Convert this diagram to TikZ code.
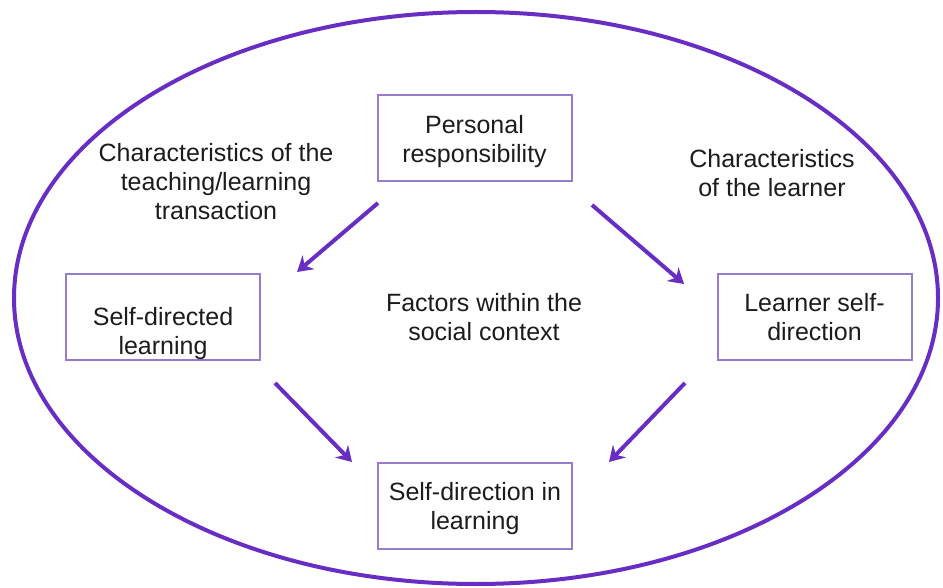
\documentclass[tikz,border=0pt]{standalone}
\usepackage{fontspec}
\setmainfont{Liberation Sans}
\usetikzlibrary{arrows.meta}
\definecolor{ringpurple}{RGB}{104,46,196}
\definecolor{boxpurple}{RGB}{152,124,204}
\definecolor{inktext}{RGB}{28,28,28}
\begin{document}
\begin{tikzpicture}[x=1pt,y=-1pt,
  every node/.style={font=\fontsize{25}{29}\selectfont, text=inktext, align=center},
  factor/.style={draw=boxpurple, line width=2pt, minimum width=194pt, minimum height=86pt,
    inner sep=0pt, text depth=0pt},
  freetext/.style={inner sep=0pt},
  flow/.style={draw=ringpurple, line width=4pt, -{Stealth[length=15pt,width=18pt,inset=5pt]}}]
  \useasboundingbox (0,0) rectangle (943,588);

  % outer context
  \draw[ringpurple, line width=4pt] (476,298) ellipse [x radius=462, y radius=286];

  % factor boxes (the left one carries its text a little low)
  \node[factor] (pr)   at (474.5,138.5) {Personal\\responsibility};
  \node[factor] (sdl)  at (163,317)     {\mbox{}\\[17pt]Self-directed\\learning};
  \node[factor] (lsd)  at (814.5,317)   {Learner self-\\direction};
  \node[factor] (sdil) at (475,506)     {Self-direction in\\learning};

  % surrounding labels
  \node[freetext] (teach)   at (216,182) {Characteristics of the\\teaching/learning\\transaction};
  \node[freetext] (learner) at (772,173) {Characteristics\\of the learner};
  \node[freetext] (social)  at (484,317) {Factors within the\\social context};

  % arrow ends
  \coordinate (a1s) at (378,203);
  \coordinate (a1e) at (297,272);
  \coordinate (a2s) at (592,205);
  \coordinate (a2e) at (684,284);
  \coordinate (a3s) at (275,383);
  \coordinate (a3e) at (352,462);
  \coordinate (a4s) at (685,383);
  \coordinate (a4e) at (609,462);

  \draw[flow] (a1s) -- (a1e);
  \draw[flow] (a2s) -- (a2e);
  \draw[flow] (a3s) -- (a3e);
  \draw[flow] (a4s) -- (a4e);
\end{tikzpicture}
\end{document}
